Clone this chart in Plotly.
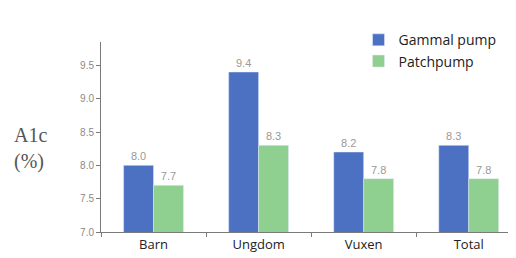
import plotly.graph_objects as go

categories = ["Barn", "Ungdom", "Vuxen", "Total"]
gammal = [8.0, 9.4, 8.2, 8.3]
patch = [7.7, 8.3, 7.8, 7.8]
y_ticks = [7.0, 7.5, 8.0, 8.5, 9.0, 9.5]

blue = "#4c71c3"
green = "#8fcf8f"

fig = go.Figure()
for name, vals, col in [("Gammal pump", gammal, blue), ("Patchpump", patch, green)]:
    fig.add_trace(go.Bar(name=name, x=categories, y=vals, marker_color=col,
                         text=[f"{v:.1f}" for v in vals], textposition="outside",
                         textfont=dict(size=11, color="#999999", family="Liberation Sans"),
                         cliponaxis=False))

# page body adds an 8px offset; figure is sized to fit inside 516x258
fig.update_layout(
    width=508, height=250,
    margin=dict(l=93, r=0, t=34, b=26, autoexpand=False),
    paper_bgcolor="white", plot_bgcolor="white",
    barmode="group", bargap=0.43, bargroupgap=0,
    showlegend=True,
    legend=dict(xref="container", yref="container", x=0.69, y=0.935,
                xanchor="left", yanchor="top",
                font=dict(size=14, color="#222", family="Open Sans"),
                bgcolor="rgba(0,0,0,0)", itemwidth=30, tracegroupgap=0),
    xaxis=dict(range=[-0.5, 3.45], showline=True, linecolor="#7a7a7a", linewidth=1,
               ticks="outside", tickson="boundaries", ticklen=4, tickcolor="#7a7a7a",
               tickfont=dict(size=13, color="#222", family="Open Sans"),
               showgrid=False, zeroline=False, automargin=False),
    yaxis=dict(range=[7.0, 9.85], tickvals=y_ticks, ticktext=[f"{v:.1f}" for v in y_ticks],
               showline=True, linecolor="#7a7a7a", linewidth=1,
               ticks="outside", ticklen=4, tickcolor="#7a7a7a",
               tickfont=dict(size=10, color="#8a8a8a", family="Liberation Sans"),
               showgrid=False, zeroline=False, automargin=False),
)
fig.add_annotation(text="A1c<br>(%)", xref="paper", yref="paper",
                   x=-0.171, y=0.442, xanchor="center", yanchor="middle",
                   showarrow=False, align="left",
                   font=dict(size=20, color="#555", family="Liberation Serif"))

fig.write_html("out.html")
